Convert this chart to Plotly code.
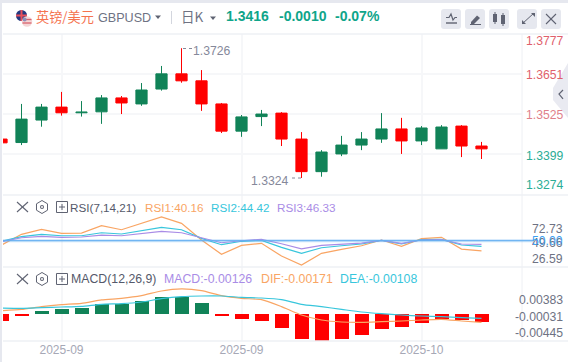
import plotly.graph_objects as go

# ---------- data ----------
idx = list(range(25))
opens = [1.3445,1.3434,1.3505,1.3546,1.3528,1.3531,1.3575,1.3556,1.3603,1.3651,1.3629,1.3556,1.3470,1.3516,1.3527,1.3445,1.3342,1.3398,1.3426,1.3445,1.3477,1.3439,1.3414,1.3486,1.3423]
highs = [1.3450,1.3556,1.3556,1.3594,1.3565,1.3584,1.3581,1.3622,1.3676,1.3732,1.3663,1.3559,1.3521,1.3537,1.3530,1.3467,1.3410,1.3455,1.3467,1.3527,1.3512,1.3486,1.3489,1.3489,1.3436]
lows = [1.3430,1.3426,1.3484,1.3519,1.3516,1.3493,1.3524,1.3550,1.3598,1.3623,1.3534,1.3464,1.3452,1.3486,1.3423,1.3322,1.3326,1.3391,1.3410,1.3433,1.3398,1.3426,1.3414,1.3388,1.3382]
closes = [1.3433,1.3508,1.3546,1.3528,1.3530,1.3575,1.3559,1.3600,1.3651,1.3629,1.3556,1.3470,1.3515,1.3524,1.3445,1.3342,1.3404,1.3426,1.3445,1.3477,1.3439,1.3480,1.3483,1.3423,1.3414]
rsi1 = [45.8,56.1,60.9,57.0,57.3,64.4,60.5,66.6,72.73,66.6,50.6,36.9,45.5,47.4,35.2,26.59,37.8,41.7,45.1,50.6,44.5,51.9,53.2,41.9,40.16]
rsi2 = [49.4,53.8,56.1,54.7,54.7,57.6,56.4,59.5,62.8,60.5,52.2,46.1,49.4,50.3,43.6,37.8,43.2,45.1,46.8,50.3,46.8,50.9,51.3,45.8,44.42]
rsi3 = [49.0,52.8,54.2,53.2,53.5,55.4,54.7,56.7,59.0,57.6,52.8,48.0,49.9,51.3,47.0,42.2,45.5,46.8,47.7,50.3,47.4,50.6,50.9,46.8,46.33]
rsi_mid = 50.0
macd = [-.00106,-.00032,.00048,.0008,.00095,.00159,.00154,.00207,.0027,.0027,.00175,-.00016,-.0008,-.00111,-.00223,-.00398,-.00429,-.00398,-.00334,-.00239,-.00207,-.00143,-.00084,-.00095,-.00126]
dif = [.00053,.00074,.00117,.00148,.0017,.00223,.00249,.00292,.00366,.00398,.00371,.00292,.00249,.00228,.00117,-.00016,-.00095,-.00127,-.00133,-.00122,-.00111,-.00095,-.00085,-.00111,-.00133]
dea = [.00095,.0009,.00101,.00111,.00122,.00154,.00164,.00191,.00244,.00276,.00286,.00286,.00265,.00254,.00228,.00154,.00117,.00074,.00032,.00005,-.00016,-.00032,-.00042,-.00058,-.00069]
price_ticks = [1.3777,1.3651,1.3525,1.3399,1.3274]
price_labels = ["1.3777","1.3651","1.3525","1.3399","1.3274"]
rsi_labels = ["72.73","49.66","26.59"]
macd_labels = ["0.00383","-0.00031","-0.00445"]
date_ticks = [3,12,21]
date_labels = ["2025-09","2025-09","2025-10"]

# ---------- style ----------
W, H = 568, 362
FONT = "Liberation Sans"
CJK = "Noto Sans CJK SC"
RED, GREEN = "#ff0000", "#118358"
ORANGE, CYAN, PURPLE = "#f9a564", "#38c6dc", "#a98ce6"
GRID, BORDER = "#f6f7f9", "#eef0f4"
def fx(x): return x / W
def fy(y): return 1 - y / H

fig = go.Figure()
fig.add_trace(go.Candlestick(x=idx, open=opens, high=highs, low=lows, close=closes, xaxis="x", yaxis="y",
    increasing=dict(line=dict(color=GREEN, width=1), fillcolor=GREEN),
    decreasing=dict(line=dict(color=RED, width=1), fillcolor=RED), whiskerwidth=0, showlegend=False))
for vals, c in ((rsi1, ORANGE), (rsi2, CYAN), (rsi3, PURPLE)):
    fig.add_trace(go.Scatter(x=idx, y=vals, mode="lines", line=dict(color=c, width=1.2), xaxis="x2", yaxis="y2", showlegend=False))
fig.add_trace(go.Bar(x=idx, y=macd, width=0.7, marker=dict(color=[GREEN if v > 0 else RED for v in macd], line=dict(width=0)),
    xaxis="x3", yaxis="y3", showlegend=False))
for vals, c in ((dif, ORANGE), (dea, CYAN)):
    fig.add_trace(go.Scatter(x=idx, y=vals, mode="lines", line=dict(color=c, width=1.2, shape="spline", smoothing=0.6), xaxis="x3", yaxis="y3", showlegend=False))

xdom = [fx(3), fx(522)]
xr = [0.075, 26.025]
def xa(**k):
    return dict(domain=xdom, range=xr, tickmode="array", tickvals=date_ticks, showgrid=True, gridcolor=GRID, gridwidth=2,
                zeroline=False, showline=False, rangeslider=dict(visible=False), ticks="", **k)
def ya(dom, rng, **k):
    return dict(domain=[fy(dom[1]), fy(dom[0])], range=rng, showgrid=k.pop("showgrid", False), gridcolor=GRID, gridwidth=2,
                zeroline=False, showline=False, showticklabels=False, ticks="", **k)

shapes, ann = [], []
def line(x0, y0, x1, y1, c, w=1, dash=None):
    shapes.append(dict(type="line", xref="paper", yref="paper", x0=fx(x0), y0=fy(y0), x1=fx(x1), y1=fy(y1),
                       line=dict(color=c, width=w, dash=dash) , layer="above"))
def path(d, fill=None, c=None, w=1):
    out = []
    for tok in d.split():
        if "," in tok:
            a, b = tok.split(",")
            out.append(f"{fx(float(a)):.5f},{fy(float(b)):.5f}")
        else:
            out.append(tok)
    shapes.append(dict(type="path", xref="paper", yref="paper", path=" ".join(out), fillcolor=fill or "rgba(0,0,0,0)",
                       line=dict(color=c or "rgba(0,0,0,0)", width=w if c else 0), layer="above"))
def circle(cx, cy, r, fill):
    shapes.append(dict(type="circle", xref="paper", yref="paper", x0=fx(cx-r), x1=fx(cx+r), y0=fy(cy+r), y1=fy(cy-r),
                       fillcolor=fill, line=dict(width=0), layer="above"))
def text(x, y, s, c, size=12, anchor="left", fam=FONT, bold=False):
    ann.append(dict(xref="paper", yref="paper", x=fx(x), y=fy(y), text=f"<b>{s}</b>" if bold else s, showarrow=False, xanchor=anchor,
                    yanchor="middle", font=dict(family=fam, size=size, color=c), borderpad=0, borderwidth=0))
def rrect(x0, y0, x1, y1, r, fill):
    path(f"M {x0+r},{y0} L {x1-r},{y0} Q {x1},{y0} {x1},{y0+r} L {x1},{y1-r} Q {x1},{y1} {x1-r},{y1} L {x0+r},{y1} Q {x0},{y1} {x0},{y1-r} L {x0},{y0+r} Q {x0},{y0} {x0+r},{y0} Z", fill=fill)

# frame
line(0, 1.5, W, 1.5, "#e6e8ef", 3)
line(1, 0, 1, H, "#e6e8ef", 2)
for y in (34, 195, 267, 341):
    line(3, y, 568, y, BORDER, 1.5)
line(522, 34, 522, 341, BORDER, 1)

# collapse tab
path("M 568,63 L 553,88 L 553,100 L 568,118 Z", fill="#e9eaf1")
path("M 563,90 L 559,94 L 563,99", c="#5f6372", w=1.2)

# 50 line in RSI
shapes.append(dict(type="line", xref="paper", yref="y2", x0=fx(3), x1=fx(534), y0=rsi_mid, y1=rsi_mid, line=dict(color="rgba(100,176,240,0.35)", width=3), layer="above"))
shapes.append(dict(type="line", xref="paper", yref="y2", x0=fx(3), x1=fx(534), y0=rsi_mid, y1=rsi_mid, line=dict(color="#62aef0", width=1), layer="above"))

# header
circle(21.5, 15.5, 5.5, "#24387f")
line(16, 15.5, 27, 15.5, "#e8505b", 2); line(21.5, 10, 21.5, 21, "#e8505b", 2)
circle(27, 21.5, 5.2, "#f4d6d6")
line(22.5, 19.5, 31.5, 19.5, "#d9626c", 1.3); line(22.5, 23, 31.5, 23, "#d9626c", 1.3); circle(24.6, 19.5, 2, "#8f8fb8")
text(36, 16.5, "英镑/美元", "#f5734f", 13.2, fam=CJK)
text(98, 18, "GBPUSD", "#6e7283", 12.6)
path("M 155,15.5 L 161,15.5 L 158,19 Z", fill="#5f6372")
line(171.5, 11, 171.5, 24, "#d3d6de", 1)
text(181, 16, "日K", "#6e7283", 13.5, fam=CJK)
path("M 210,16.5 L 216,16.5 L 213,20 Z", fill="#5f6372")
text(226, 16.5, "1.3416", "#0fa58a", 14, bold=True)
text(279, 16.5, "-0.0010", "#0fa58a", 14, bold=True)
text(335, 16.5, "-0.07%", "#0fa58a", 14, bold=True)
for x0 in (441, 465, 489, 517, 541):
    rrect(x0, 9, x0 + 20, 29, 3, "#e6e8ef")
I = "#5f6372"
path("M 446,17.5 L 449,17.5 L 451,14 L 453,20 L 455,17.5 L 457,17.5", c=I, w=1.2)
line(446, 23, 457, 23, I, 1.4)
path("M 471,22 L 477,15.5 L 480,18 L 474,24 L 471,24 Z", fill=I)
line(470, 24.5, 481, 24.5, I, 1)
for x, t, b in ((495, 14, 22), (503, 15, 24)):
    line(x, t - 2, x, b + 2, I, 1); line(x, t, x, b, I, 4)
line(522, 24, 534, 13, I, 1)
path("M 531,13 L 535,13 L 535,17 Z", fill=I); path("M 522,20 L 522,24 L 526,24 Z", fill=I)
line(546, 14, 556, 24, I, 1.1); line(556, 14, 546, 24, I, 1.1)

# price labels
colors = ["#df5f6c", "#df5f6c", "#df7f8a", "#2bad95", "#2bad95"]
for lbl, c, y in zip(price_labels, colors, (41.5, 75, 115, 156, 185)):
    text(526, y, lbl, c, 12.2)
# extremes
text(193, 51, "1.3726", "#85889a", 12.2)
line(183, 48.5, 192, 48.5, "#85889a", 1, "dot")
text(251, 181, "1.3324", "#85889a", 12.2)
line(292, 178, 301, 178, "#85889a", 1, "dot")

# pane header icons
def pane_icons(y):
    line(17, y - 5, 28, y + 5, I, 1.1); line(28, y - 5, 17, y + 5, I, 1.1)
    path(f"M 42,{y-6.5} L 47.5,{y-3.2} L 47.5,{y+3.2} L 42,{y+6.5} L 36.5,{y+3.2} L 36.5,{y-3.2} Z", c=I, w=1)
    circle(42, y, 2, I); circle(42, y, 1, "#ffffff")
    path(f"M 56.5,{y-5.5} L 67.5,{y-5.5} L 67.5,{y+5.5} L 56.5,{y+5.5} Z", c=I, w=1)
    line(59, y, 65, y, I, 1); line(62, y - 3, 62, y + 3, I, 1)
pane_icons(207)
text(70, 207, "RSI(7,14,21)", "#55596a", 11.7)
text(145, 207, "RSI1:40.16", ORANGE, 11.7)
text(211, 207, "RSI2:44.42", CYAN, 11.7)
text(277, 207, "RSI3:46.33", PURPLE, 11.7)
pane_icons(279)
text(71, 279, "MACD(12,26,9)", "#55596a", 12.3)
text(164, 279, "MACD:-0.00126", PURPLE, 12.3)
text(261, 279, "DIF:-0.00171", ORANGE, 12.3)
text(340, 279, "DEA:-0.00108", CYAN, 12.3)

# RSI / MACD labels
for lbl, y in zip(rsi_labels, (229, 243, 259)):
    text(563, y, lbl, "#6e7283", 12.2, "right")
text(563, 241, f"{rsi_mid:.2f}", "#3f9ff0", 12.2, "right")
for lbl, y in zip(macd_labels, (300, 316.5, 333)):
    text(563, y, lbl, "#6e7283", 12.2, "right")

fig.update_layout(
    width=W, height=H, autosize=False, margin=dict(l=0, r=0, t=0, b=0), paper_bgcolor="#ffffff", plot_bgcolor="#ffffff",
    boxgap=0.2, bargap=0, showlegend=False, hovermode=False, shapes=shapes, annotations=ann,
    font=dict(family=FONT),
    xaxis=xa(showticklabels=False, anchor="y"),
    xaxis2=xa(showticklabels=False, anchor="y2"),
    xaxis3=xa(showticklabels=True, ticktext=date_labels, anchor="y3", tickfont=dict(family=FONT, size=12, color="#a6a8b6"), ticklen=0),
    yaxis=ya((34, 195), [1.32682, 1.3777], showgrid=True, tickmode="array", tickvals=price_ticks[1:4], anchor="x"),
    yaxis2=ya((195, 267), [24.68, 93.87], anchor="x2"),
    yaxis3=ya((267, 341), [-.00429, .00747], anchor="x3"),
)
fig.write_html("out.html", config=dict(displayModeBar=False), post_script="document.body.style.margin='0';document.body.style.background='#fff';")
